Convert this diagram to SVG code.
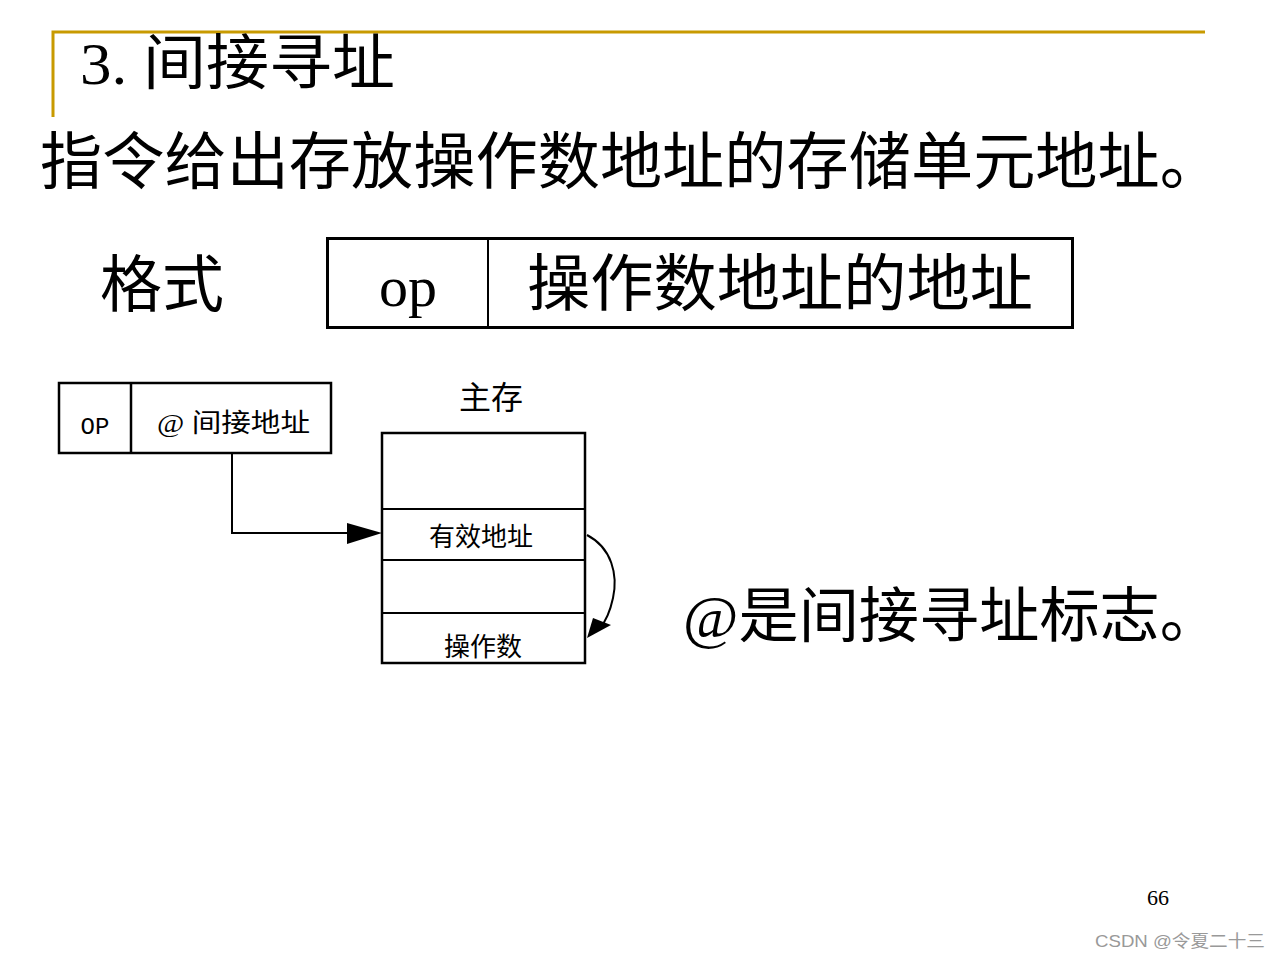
<svg xmlns="http://www.w3.org/2000/svg" width="1280" height="960" viewBox="0 0 1280 960">
<style>
.t{font-family:"Liberation Serif","Noto Sans CJK SC",serif;fill:#000}
.s{font-family:"Liberation Mono","Noto Sans CJK SC",monospace;fill:#000}
.b{fill:#fff;stroke:#000}
</style>
<rect width="1280" height="960" fill="#fff"/>
<g id="title">
<path d="M53,117 V32 H1205" fill="none" stroke="#C89A00" stroke-width="3"/>
<text class="t" x="80" y="84" font-size="60" textLength="315" lengthAdjust="spacingAndGlyphs">3. 间接寻址</text>
</g>
<text class="t" x="40" y="184" font-size="62" textLength="1182" lengthAdjust="spacingAndGlyphs">指令给出存放操作数地址的存储单元地址。</text>
<text class="t" x="100" y="307" font-size="62">格式</text>
<g id="format">
<rect class="b" x="327.5" y="238.5" width="745" height="89" stroke-width="3"/>
<line x1="488" y1="238" x2="488" y2="328" stroke="#000" stroke-width="2"/>
<text class="t" x="408" y="306" font-size="58" text-anchor="middle">op</text>
<text class="t" x="780" y="306" font-size="62" text-anchor="middle" textLength="506" lengthAdjust="spacingAndGlyphs">操作数地址的地址</text>
</g>
<g id="instr">
<rect class="b" x="59" y="383" width="272" height="70" stroke-width="2.5"/>
<line x1="131" y1="383" x2="131" y2="453" stroke="#000" stroke-width="2.5"/>
<text class="s" x="95" y="434" font-size="24" text-anchor="middle">OP</text>
<text class="t" x="157" y="432" font-size="26" textLength="153" lengthAdjust="spacingAndGlyphs">@ 间接地址</text>
</g>
<g id="memory">
<text class="t" x="491" y="409" font-size="32" text-anchor="middle">主存</text>
<rect class="b" x="382" y="433" width="203" height="230" stroke-width="2.5"/>
<line x1="382" y1="509" x2="585" y2="509" stroke="#000" stroke-width="2"/>
<line x1="382" y1="560" x2="585" y2="560" stroke="#000" stroke-width="2"/>
<line x1="382" y1="613" x2="585" y2="613" stroke="#000" stroke-width="2"/>
<text class="t" x="481" y="546" font-size="26" text-anchor="middle">有效地址</text>
<text class="t" x="483" y="656" font-size="26" text-anchor="middle">操作数</text>
</g>
<g id="connectors" fill="none" stroke="#000" stroke-width="2">
<path d="M232,453 V533 H350" />
<path d="M347,523 L382,533 L347,544 z" fill="#000" stroke="none"/>
<path d="M587,535 C612,548 618,575 613,598 C610,612 605,622 600,628"/>
<path d="M593,618 L611,625 L587,638 z" fill="#000" stroke="none"/>
</g>
<text class="t" x="683" y="637" font-size="60" textLength="537" lengthAdjust="spacingAndGlyphs">@是间接寻址标志。</text>
<text class="t" x="1147" y="905" font-size="22">66</text>
<text x="1095" y="947" font-size="17" fill="#999" font-family="Liberation Sans,Noto Sans CJK SC,sans-serif" textLength="170" lengthAdjust="spacingAndGlyphs">CSDN @令夏二十三</text>
</svg>
